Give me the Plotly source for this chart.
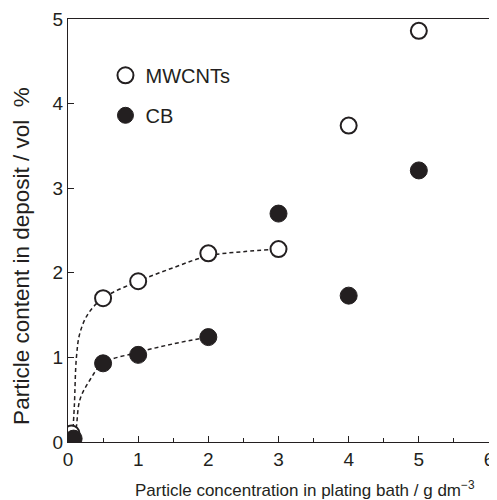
import plotly.graph_objects as go

# Data
mw_x = [0.05, 0.5, 1, 2, 3, 4, 5]
mw_y = [0.10, 1.70, 1.90, 2.23, 2.28, 3.74, 4.86]
cb_x = [0.08, 0.5, 1, 2, 3, 4, 5]
cb_y = [0.04, 0.93, 1.03, 1.24, 2.70, 1.73, 3.21]

# dashed guide curves
mw_fit_x = [0.06, 0.09, 0.12, 0.17, 0.29, 0.5, 1.0, 1.5, 2.0, 2.5, 3.0]
mw_fit_y = [0.00, 0.42, 1.00, 1.29, 1.52, 1.70, 1.90, 2.06, 2.20, 2.25, 2.28]
cb_fit_x = [0.09, 0.12, 0.17, 0.31, 0.5, 1.0, 1.5, 2.0]
cb_fit_y = [0.00, 0.18, 0.50, 0.73, 0.93, 1.06, 1.16, 1.24]

x_title = "Particle concentration in plating bath / g dm<sup>−3</sup>"
y_title = "Particle content in deposit / vol\u00a0 %"

INK = "#231f20"
FONT = "Liberation Sans, Arial"
fig = go.Figure()
fig.add_trace(go.Scatter(x=mw_fit_x, y=mw_fit_y, mode="lines", line=dict(color=INK, width=1.5, dash="4px,3px", shape="spline"), showlegend=False))
fig.add_trace(go.Scatter(x=cb_fit_x, y=cb_fit_y, mode="lines", line=dict(color=INK, width=1.5, dash="4px,3px", shape="spline"), showlegend=False))
fig.add_trace(go.Scatter(x=mw_x, y=mw_y, mode="markers", name="MWCNTs", legendgroup="a",
                         marker=dict(symbol="circle", size=16, color="white", line=dict(color=INK, width=2))))
fig.add_trace(go.Scatter(x=cb_x, y=cb_y, mode="markers", name="CB", legendgroup="b",
                         marker=dict(symbol="circle", size=17, color=INK, line=dict(color=INK, width=1))))

axis_common = dict(showgrid=False, zeroline=False, showline=True, linecolor=INK, linewidth=1.2,
                   mirror=True, ticks="inside", tickcolor=INK, ticklen=6, tickwidth=1, automargin=False,
                   tickfont=dict(family=FONT, size=19, color=INK))
fig.update_xaxes(range=[0, 6], dtick=1, tick0=0,
                 minor=dict(ticks="inside", dtick=0.5, ticklen=4, tickcolor=INK),
                 **axis_common)
fig.update_yaxes(range=[0, 5], dtick=1, tick0=0, **axis_common)

fig.add_annotation(text=x_title, xref="paper", yref="paper", x=0.563, y=0, xanchor="center",
                   yanchor="middle", yshift=-47, showarrow=False,
                   font=dict(family=FONT, size=17, color=INK))
fig.add_annotation(text=y_title, xref="paper", yref="paper", x=0, y=0.44, xanchor="center",
                   yanchor="middle", xshift=-46, textangle=-90, showarrow=False,
                   font=dict(family=FONT, size=22.5, color=INK))

# page body has an 8px margin: figure is offset by (8, 8) in the window
fig.update_layout(width=489, height=492, margin=dict(l=60, r=8, t=11, b=58),
                  paper_bgcolor="white", plot_bgcolor="white",
                  legend=dict(x=0.089, y=0.913, xanchor="left", yanchor="top", tracegroupgap=11,
                              bgcolor="rgba(0,0,0,0)",
                              font=dict(family=FONT, size=20, color=INK)))
fig.write_html("out.html")
